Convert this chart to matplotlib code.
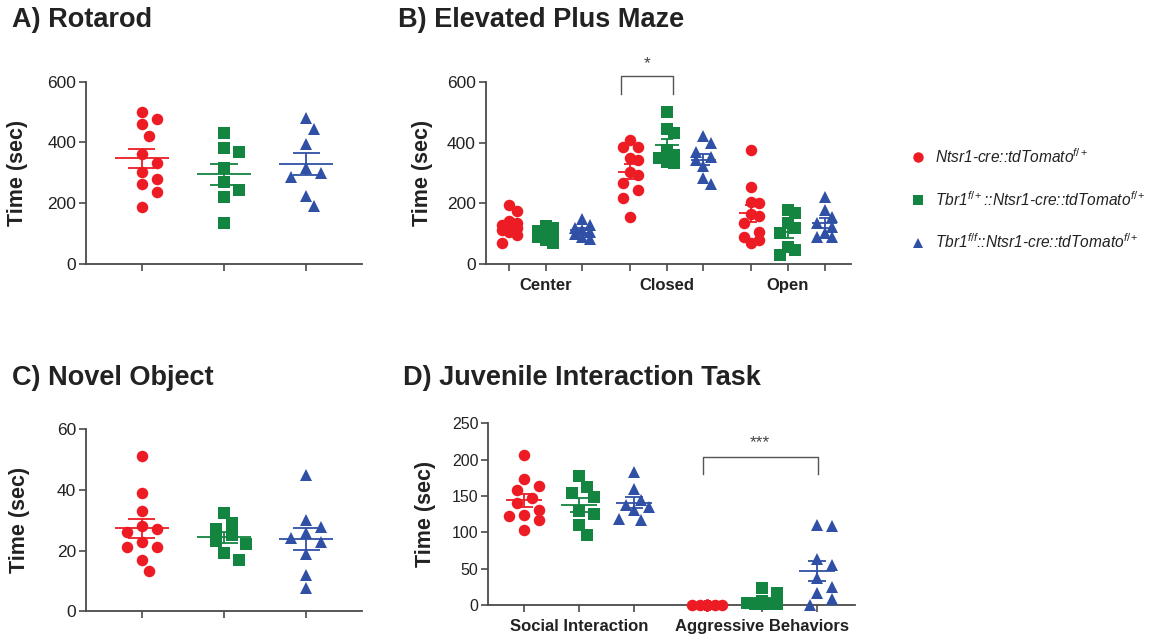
import numpy as np
import matplotlib
matplotlib.use("Agg")
import matplotlib.pyplot as plt
from matplotlib.lines import Line2D

plt.rcParams['font.family'] = ['Liberation Sans', 'DejaVu Sans']
plt.rcParams['mathtext.fontset'] = 'custom'
plt.rcParams['mathtext.rm'] = 'Liberation Sans'
plt.rcParams['mathtext.it'] = 'Liberation Sans:italic'
plt.rcParams['mathtext.bf'] = 'Liberation Sans:bold'

# ---------------- data ----------------
group_labels = [r"Ntsr1-cre::tdTomato$^{f/+}$",
                r"Tbr1$^{f/+}$::Ntsr1-cre::tdTomato$^{f/+}$",
                r"Tbr1$^{f/f}$::Ntsr1-cre::tdTomato$^{f/+}$"]

# A) Rotarod
rot_wt = [501, 477, 460, 422, 362, 333, 304, 279, 263, 238, 188]
rot_het = [430, 381, 369, 317, 269, 242, 219, 135]
rot_ko = [482, 444, 395, 315, 298, 285, 224, 191]

# B) Elevated plus maze
epm_categories = ["Center", "Closed", "Open"]
center_wt = [195, 176, 142, 135, 130, 125, 118, 112, 105, 95, 68]
center_het = [125, 118, 110, 104, 98, 90, 80, 68]
center_ko = [150, 130, 120, 112, 105, 98, 90, 82]
closed_wt = [409, 385, 385, 349, 343, 305, 294, 266, 246, 217, 154]
closed_het = [503, 445, 431, 376, 360, 349, 338, 332]
closed_ko = [422, 398, 371, 354, 343, 323, 283, 264]
open_wt = [378, 255, 206, 200, 165, 160, 134, 107, 90, 80, 70]
open_het = [178, 167, 134, 120, 103, 57, 46, 30]
open_ko = [222, 178, 156, 134, 123, 101, 88, 90]

# C) Novel object
nor_wt = [51.1, 39, 33.1, 28.2, 27.1, 26, 22.9, 21.3, 21.3, 16.9, 13.1]
nor_het = [32.3, 29.2, 27.1, 25, 23.1, 22.2, 19.1, 16.9]
nor_ko = [44.9, 30.1, 27.9, 25.9, 24, 22.9, 18.9, 12, 7.6]

# D) Juvenile interaction
jit_categories = ["Social Interaction", "Aggressive Behaviors"]
soc_wt = [206, 173, 164, 158, 147, 140, 131, 124, 122, 117, 103]
soc_het = [177, 162, 154, 148, 130, 125, 110, 96]
soc_ko = [183, 159, 144, 138, 135, 131, 119, 117]
agg_wt = [0, 0, 0, 0, 0, 0, 0, 0, 0, 0, 0]
agg_het = [23, 17, 6, 3, 2, 2, 1, 1]
agg_ko = [110, 109, 63, 55, 37, 25, 16, 8, 0]

# ---------------- style ----------------
colors = ['#ED1C24', '#138540', '#3050A6']
markers = ['o', 's', '^']
msize = 8.3
spine_col = '#4a4a4a'
text_col = '#222222'

W, H = 1163, 639
fig = plt.figure(figsize=(W / 100, H / 100), dpi=100)


def rect(l, r, t, b):
    return [l / W, 1 - b / H, (r - l) / W, (b - t) / H]


def style_axes(ax, ysize=12.5):
    for s in ['top', 'right']:
        ax.spines[s].set_visible(False)
    for s in ['left', 'bottom']:
        ax.spines[s].set_color(spine_col)
        ax.spines[s].set_linewidth(1.3)
    ax.tick_params(axis='both', direction='out', length=5, width=1.2,
                   color=spine_col, labelcolor=text_col, pad=2)
    ax.tick_params(axis='y', labelsize=ysize)
    ax.tick_params(axis='x', pad=5)
    for lab in ax.get_xticklabels():
        lab.set_fontweight('bold')
        lab.set_fontsize(12)


def swarm_x(ax, xc, vals, d=12.0, step=7.5, maxoff=0.36):
    vals = np.asarray(vals, dtype=float)
    trans = ax.transData
    disp = trans.transform(np.column_stack([np.full(len(vals), xc), vals]))
    ys = disp[:, 1]
    x0 = disp[0, 0]
    maxpx = abs(trans.transform((xc + maxoff, 0))[0] - x0)
    cands = [0.0]
    k = 1
    while k * step <= maxpx:
        cands += [k * step, -k * step]
        k += 1
    order = np.argsort(-vals, kind='stable')
    placed = []
    offs = np.zeros(len(vals))
    for i in order:
        best = None
        for c in cands:
            if all((c - px) ** 2 + (ys[i] - py) ** 2 >= d * d for px, py in placed):
                best = c
                break
        if best is None:
            best = max(cands, key=lambda c: min((c - px) ** 2 + (ys[i] - py) ** 2
                                                for px, py in placed))
        placed.append((best, ys[i]))
        offs[i] = best
    xs = trans.inverted().transform(np.column_stack([x0 + offs, ys]))[:, 0]
    return xs


def draw_group(ax, xc, vals, gi):
    vals = np.asarray(vals, dtype=float)
    xs = swarm_x(ax, xc, vals)
    ax.plot(xs, vals, linestyle='none', marker=markers[gi], markersize=msize,
            color=colors[gi], markeredgewidth=0, zorder=3, clip_on=False)
    m = vals.mean()
    sem = vals.std(ddof=1) / np.sqrt(len(vals))
    c = colors[gi]
    ax.hlines(m, xc - 0.33, xc + 0.33, color=c, lw=1.3, zorder=4)
    ax.hlines([m - sem, m + sem], xc - 0.165, xc + 0.165, color=c, lw=1.3, zorder=4)
    ax.vlines(xc, m - sem, m + sem, color=c, lw=1.3, zorder=4)


def bracket(ax, x1, x2, ytop, ybot, label, ytext):
    ax.plot([x1, x1, x2, x2], [ybot, ytop, ytop, ybot], color='#555555', lw=1.0,
            clip_on=False, zorder=5)
    ax.text((x1 + x2) / 2, ytext, label, ha='center', va='center', fontsize=12.5,
            color='#444444', clip_on=False)


def ylabel(ax, xfrac):
    ax.set_ylabel("Time (sec)", fontsize=15.5, fontweight='bold', color=text_col)
    ax.yaxis.set_label_coords(xfrac, 0.5)


# ---------------- Panel A ----------------
axA = fig.add_axes(rect(86, 362, 81.7, 264))
axA.set_xlim(-0.68, 2.68)
axA.set_ylim(0, 600)
axA.set_yticks([0, 200, 400, 600])
axA.set_xticks([0, 1, 2])
axA.set_xticklabels(['', '', ''])
for gi, vals in enumerate([rot_wt, rot_het, rot_ko]):
    draw_group(axA, gi, vals, gi)
style_axes(axA)
ylabel(axA, -0.21)

# ---------------- Panel B ----------------
axB = fig.add_axes(rect(485.7, 851, 82.3, 264))
axB.set_xlim(-0.635, 9.32)
axB.set_ylim(0, 600)
axB.set_yticks([0, 200, 400, 600])
b_offsets = [0.0, 3.3, 6.6]
b_data = [[center_wt, center_het, center_ko],
          [closed_wt, closed_het, closed_ko],
          [open_wt, open_het, open_ko]]
b_ticks, b_labels = [], []
for ci, cat in enumerate(epm_categories):
    for gi in range(3):
        pos = b_offsets[ci] + gi
        b_ticks.append(pos)
        b_labels.append(cat if gi == 1 else '')
        draw_group(axB, pos, b_data[ci][gi], gi)
axB.set_xticks(b_ticks)
axB.set_xticklabels(b_labels)
style_axes(axB)
ylabel(axB, -0.144)
bracket(axB, 3.05, 4.47, 621, 560, '*', 663)

# ---------------- Panel C ----------------
axC = fig.add_axes(rect(86, 362, 429, 611.3))
axC.set_xlim(-0.68, 2.68)
axC.set_ylim(0, 60)
axC.set_yticks([0, 20, 40, 60])
axC.set_xticks([0, 1, 2])
axC.set_xticklabels(['', '', ''])
for gi, vals in enumerate([nor_wt, nor_het, nor_ko]):
    draw_group(axC, gi, vals, gi)
style_axes(axC)
ylabel(axC, -0.203)

# ---------------- Panel D ----------------
axD = fig.add_axes(rect(488.3, 855, 423.3, 605))
axD.set_xlim(-0.65, 6.02)
axD.set_ylim(0, 250)
axD.set_yticks([0, 50, 100, 150, 200, 250])
d_offsets = [0.0, 3.33]
d_data = [[soc_wt, soc_het, soc_ko], [agg_wt, agg_het, agg_ko]]
d_ticks, d_labels = [], []
for ci, cat in enumerate(jit_categories):
    for gi in range(3):
        pos = d_offsets[ci] + gi
        d_ticks.append(pos)
        d_labels.append(cat if gi == 1 else '')
        draw_group(axD, pos, d_data[ci][gi], gi)
axD.set_xticks(d_ticks)
axD.set_xticklabels(d_labels)
style_axes(axD, ysize=11.5)
ylabel(axD, -0.143)
bracket(axD, 3.25, 5.34, 204, 180, '***', 224)

# ---------------- Titles ----------------
tkw = dict(fontsize=19.5, fontweight='bold', color=text_col, va='baseline', ha='left')
fig.text(12 / W, 1 - 27 / H, "A) Rotarod", **tkw)
fig.text(398 / W, 1 - 27 / H, "B) Elevated Plus Maze", **tkw)
fig.text(12 / W, 1 - 385 / H, "C) Novel Object", **tkw)
fig.text(403 / W, 1 - 385 / H, "D) Juvenile Interaction Task", **tkw)

# ---------------- Legend ----------------
handles = [Line2D([], [], linestyle='none', marker=markers[i], color=colors[i],
                  markersize=7.5, markeredgewidth=0) for i in range(3)]
leg = fig.legend(handles, group_labels, loc='upper left',
                 bbox_to_anchor=(909 / W, 1 - 147 / H), frameon=False,
                 prop={'style': 'italic', 'size': 11.2}, labelspacing=1.55,
                 handlelength=1.1, handletextpad=0.55, borderpad=0, borderaxespad=0)
for t in leg.get_texts():
    t.set_color(text_col)

fig.savefig("out.png", dpi=100)
